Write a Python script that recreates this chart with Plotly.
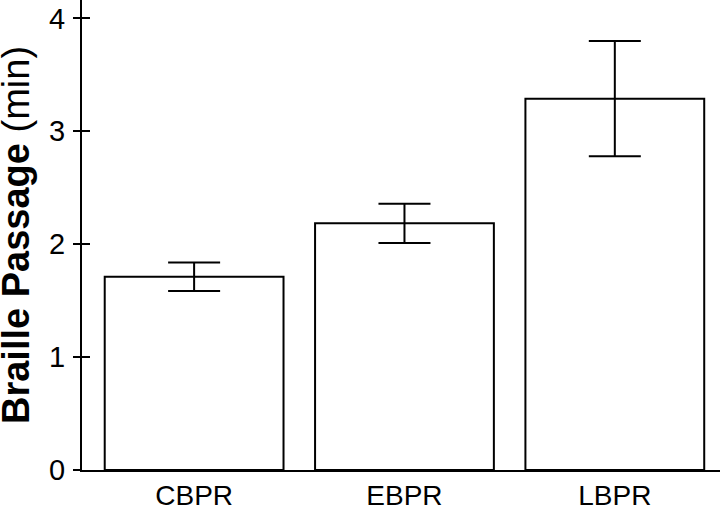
import plotly.graph_objects as go

categories = ["CBPR", "EBPR", "LBPR"]
means = [1.712, 2.185, 3.289]
errors = [0.126, 0.174, 0.51]
y_tick_vals = [0, 1, 2, 3, 4]
y_tick_text = ["0", "1", "2", "3", "4"]

FONT = "Liberation Sans, Arial, Helvetica, sans-serif"

fig = go.Figure()
fig.add_trace(go.Bar(
    x=categories, y=means, width=0.85,
    marker=dict(color="white", line=dict(color="black", width=2)),
    error_y=dict(type="data", array=errors, visible=True,
                 color="black", thickness=2, width=26),
    showlegend=False, hoverinfo="skip",
))
# invisible trace to anchor the inner-tick overlay axis
fig.add_trace(go.Scatter(
    x=categories, y=means, yaxis="y2", mode="markers",
    marker=dict(opacity=0), showlegend=False, hoverinfo="skip",
))

yrange = [0, 4.163]
fig.update_layout(
    width=720, height=508,
    margin=dict(l=82, r=0, t=0, b=38),
    paper_bgcolor="white", plot_bgcolor="white",
    font=dict(family=FONT, color="black"),
    bargap=0.15,
    xaxis=dict(
        range=[-0.533, 2.5], showgrid=False, zeroline=False,
        showline=True, linecolor="black", linewidth=2,
        ticks="", tickfont=dict(size=28, family=FONT, color="black"),
        ticklabelstandoff=-1,
        fixedrange=True, automargin=False,
    ),
    yaxis=dict(
        range=yrange, showgrid=False, zeroline=False,
        showline=True, linecolor="black", linewidth=2,
        ticks="outside", ticklen=7, tickwidth=2, tickcolor="black",
        tickvals=y_tick_vals, ticktext=y_tick_text,
        tickfont=dict(size=29, family=FONT, color="black"),
        ticklabelstandoff=2,
        automargin=False,
    ),
    yaxis2=dict(
        range=yrange, overlaying="y", side="left", anchor="x",
        showgrid=False, zeroline=False, showline=False,
        ticks="inside", ticklen=8, tickwidth=2, tickcolor="black",
        tickvals=y_tick_vals, showticklabels=False, automargin=False,
    ),
    annotations=[dict(
        text="<b>Braille Passage</b> (min)",
        xref="paper", yref="paper", x=-66 / 638, y=0.5,
        xanchor="center", yanchor="middle", textangle=-90,
        showarrow=False, font=dict(size=38, family=FONT, color="black"),
    )],
)

fig.write_html("out.html", config={"displayModeBar": False},
               post_script="document.body.style.margin='0';")
